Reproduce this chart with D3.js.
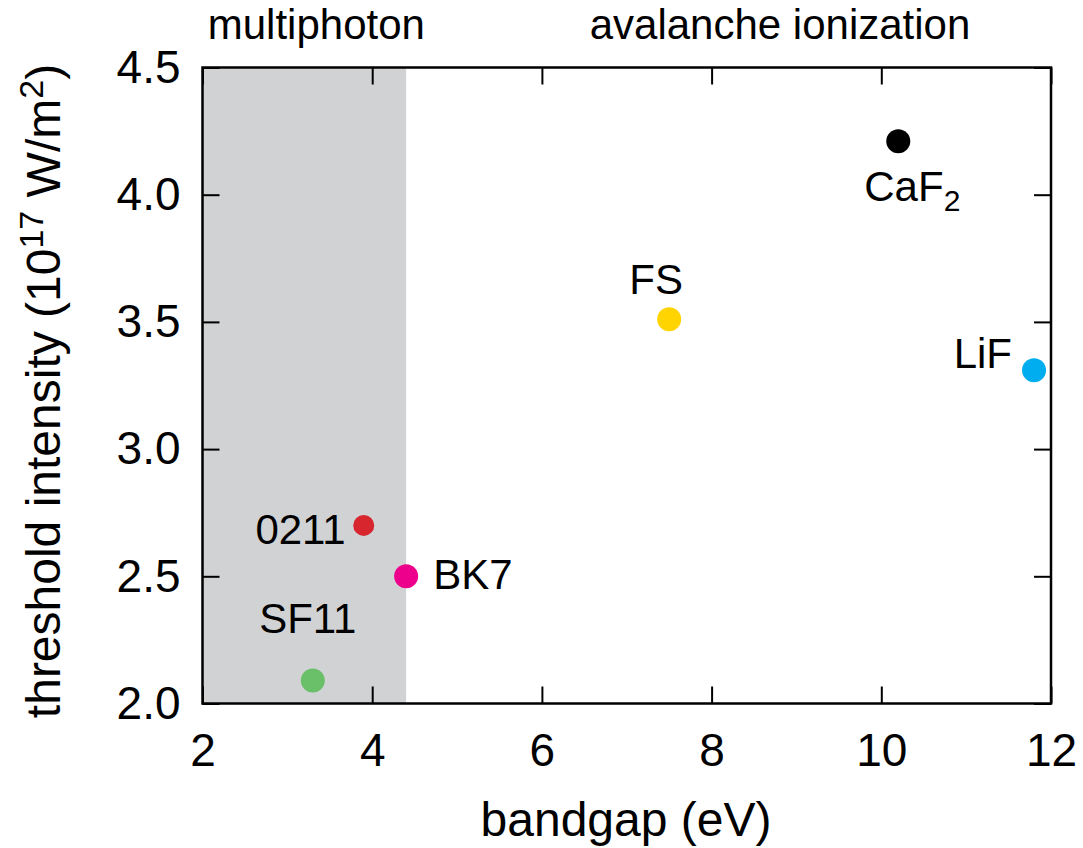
<!DOCTYPE html>
<html><head><meta charset="utf-8">
<script src="https://cdn.jsdelivr.net/npm/d3@7"></script>
<style>body{margin:0;background:#fff;} svg{display:block;font-family:"Liberation Sans",Arial,sans-serif;}</style>
</head><body><svg id="c" width="1083" height="848"></svg>
<script>
const materials = ["SF11","0211","BK7","FS","CaF2","LiF"];
const bandgap   = [3.3, 3.9, 4.4, 7.5, 10.2, 11.8];
const threshold = [2.09, 2.70, 2.50, 3.51, 4.21, 3.31];
const colors    = ["#6abf69","#d7262e","#ec008c","#ffd400","#000000","#00aeef"];
const radii     = [12, 10.5, 12, 12, 12, 12];
const xTicks = [2,4,6,8,10,12];
const yTicks = [2.0,2.5,3.0,3.5,4.0,4.5];
const regionEdge = 4.4;
const regionLabels = ["multiphoton","avalanche ionization"];
// label placement: [dx, dy, anchor]
const labelPos = [[-5,-48,"middle"],[-18,19,"end"],[27,13,"start"],[-13,-25,"middle"],[-34,60,"start"],[-22,-2,"end"]];

const svg = d3.select("#c");
const L=202.5, R=1051, T=67.5, B=703.5;
const x = d3.scaleLinear().domain([2,12]).range([L,R]);
const y = d3.scaleLinear().domain([2,4.5]).range([B,T]);

svg.append("rect").attr("x",x(2)).attr("y",T).attr("width",x(regionEdge)-x(2)).attr("height",B-T).attr("fill","#d1d2d4");

const tl=17, fs=42;
const g = svg.append("g");
g.append("g").attr("transform",`translate(0,${B})`).call(d3.axisBottom(x).tickValues(xTicks).tickSizeInner(-tl).tickSizeOuter(0).tickPadding(30).tickFormat(d3.format("d")));
g.append("g").attr("transform",`translate(0,${T})`).call(d3.axisTop(x).tickValues(xTicks).tickSizeInner(-tl).tickSizeOuter(0).tickFormat(""));
g.append("g").attr("transform",`translate(${L},0)`).call(d3.axisLeft(y).tickValues(yTicks).tickSizeInner(-tl).tickSizeOuter(0).tickPadding(22).tickFormat(d3.format(".1f")));
g.append("g").attr("transform",`translate(${R},0)`).call(d3.axisRight(y).tickValues(yTicks).tickSizeInner(-tl).tickSizeOuter(0).tickFormat(""));
g.selectAll(".domain").remove();
g.selectAll(".tick line").attr("stroke","#000").attr("stroke-width",2);
g.selectAll(".tick text").attr("font-size",46).attr("fill","#000").attr("font-family","Liberation Sans, Arial, sans-serif");
g.selectAll("text").filter(function(){return this.textContent==="";}).remove();

svg.append("rect").attr("x",L).attr("y",T).attr("width",R-L).attr("height",B-T).attr("fill","none").attr("stroke","#000").attr("stroke-width",2.5);

// points
svg.append("g").selectAll("circle").data(materials).join("circle")
  .attr("cx",(d,i)=>x(bandgap[i])).attr("cy",(d,i)=>y(threshold[i])).attr("r",(d,i)=>radii[i]).attr("fill",(d,i)=>colors[i]);

// labels
const lab = svg.append("g").attr("font-size",fs).attr("fill","#000");
materials.forEach((m,i)=>{
  const t = lab.append("text").attr("x",x(bandgap[i])+labelPos[i][0]).attr("y",y(threshold[i])+labelPos[i][1]).attr("text-anchor",labelPos[i][2]);
  if(m==="CaF2"){ t.append("tspan").text("CaF"); t.append("tspan").attr("font-size",30).attr("dy",10).text("2"); }
  else t.text(m);
});

// region labels
svg.append("text").attr("x",(x(2)+x(regionEdge))/2+12).attr("y",39).attr("text-anchor","middle").attr("font-size",fs).text(regionLabels[0]);
svg.append("text").attr("x",780).attr("y",39).attr("text-anchor","middle").attr("font-size",fs).text(regionLabels[1]);

// axis titles
svg.append("text").attr("x",626).attr("y",836).attr("text-anchor","middle").attr("font-size",48).text("bandgap (eV)");
const yt = svg.append("text").attr("transform",`translate(60,${391}) rotate(-90)`).attr("text-anchor","middle").attr("font-size",48);
yt.append("tspan").text("threshold intensity (10");
yt.append("tspan").attr("font-size",34).attr("dy",-17).text("17");
yt.append("tspan").attr("dy",17).text(" W/m");
yt.append("tspan").attr("font-size",34).attr("dy",-17).text("2");
yt.append("tspan").attr("dy",17).text(")");
</script></body></html>
